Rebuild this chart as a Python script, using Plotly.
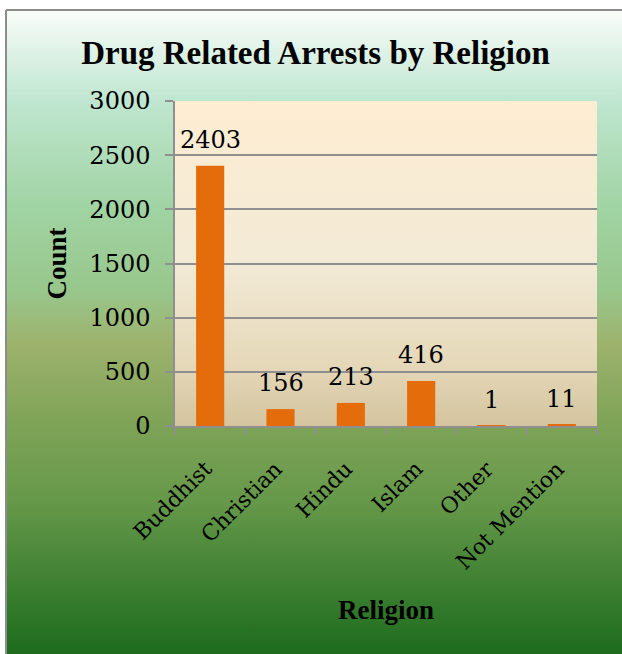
import base64
import plotly.graph_objects as go

categories = ["Buddhist", "Christian", "Hindu", "Islam", "Other", "Not Mention"]
counts = [2403, 156, 213, 416, 1, 11]
y_ticks = [0, 500, 1000, 1500, 2000, 2500, 3000]

W, H = 622, 654
L, R, T, B = 175, 25, 101, 228
PW, PH = W - L - R, H - T - B


def px_x(px):
    return (px - L) / PW


def px_y(py):
    return (H - B - py) / PH


def svg_grad(stops):
    st = "".join(f'<stop offset="{o}" stop-color="{c}"/>' for o, c in stops)
    svg = ('<svg xmlns="http://www.w3.org/2000/svg" width="100" height="100" preserveAspectRatio="none">'
           '<defs><linearGradient id="g" x1="0" y1="0" x2="0" y2="1">' + st +
           '</linearGradient></defs><rect width="100" height="100" fill="url(#g)"/></svg>')
    return "data:image/svg+xml;base64," + base64.b64encode(svg.encode()).decode()


fig_bg = svg_grad([(0, "#fafcfa"), (0.14, "#bfe6d0"), (0.3, "#a1d4a4"), (0.43, "#98c78c"),
                   (0.515, "#9db26c"), (0.63, "#80a458"), (0.76, "#659849"),
                   (0.89, "#3c7f31"), (1, "#1c6a1c")])
plot_bg = svg_grad([(0, "#feedd2"), (0.5, "#f2ead6"), (0.8, "#e6d9ba"), (1, "#d4c49f")])

fig = go.Figure()
fig.add_trace(go.Bar(x=categories, y=counts, marker=dict(color="#E46C0A", line=dict(width=0)),
                     width=0.4, hoverinfo="x+y"))

for c, v in zip(categories, counts):
    fig.add_annotation(x=c, y=v, text=str(v), showarrow=False, yanchor="bottom", yshift=10,
                       font=dict(family="DejaVu Serif", size=24, color="black"))

# rotated category labels
for c in categories:
    fig.add_annotation(x=c, y=px_y(455), yref="paper", text=c, textangle=-45, showarrow=False,
                       xanchor="right", yanchor="top", xshift=8, borderpad=0,
                       font=dict(family="DejaVu Serif", size=22, color="black"))

fig.add_annotation(xref="paper", yref="paper", x=px_x(56), y=0.5, text="<b>Count</b>",
                   textangle=-90, showarrow=False, xanchor="center", yanchor="middle",
                   font=dict(family="Liberation Serif", size=27, color="black"))
fig.add_annotation(xref="paper", yref="paper", x=0.5, y=px_y(610), text="<b>Religion</b>",
                   showarrow=False, xanchor="center", yanchor="middle",
                   font=dict(family="Liberation Serif", size=27, color="black"))

fig.add_layout_image(source=fig_bg, xref="paper", yref="paper", x=px_x(6), y=px_y(10),
                     sizex=(W + 5 - 6) / PW, sizey=(H + 5 - 10) / PH, xanchor="left", yanchor="top",
                     sizing="stretch", layer="below")
fig.add_layout_image(source=plot_bg, xref="paper", yref="paper", x=0, y=1, sizex=1, sizey=1,
                     xanchor="left", yanchor="top", sizing="stretch", layer="below")

fig.add_shape(type="line", xref="paper", yref="paper", x0=px_x(6), y0=px_y(10), x1=px_x(W + 5), y1=px_y(10),
              line=dict(color="#8c8c8c", width=2))
fig.add_shape(type="line", xref="paper", yref="paper", x0=px_x(6), y0=px_y(10), x1=px_x(6), y1=px_y(H + 5),
              line=dict(color="#8c8c8c", width=2))

fig.update_layout(
    width=W, height=H,
    margin=dict(l=L, r=R, t=T, b=B, pad=0),
    paper_bgcolor="white", plot_bgcolor="rgba(0,0,0,0)",
    showlegend=False,
    bargap=0.6,
    title=dict(text="<b>Drug Related Arrests by Religion</b>", xref="container", yref="container",
               x=315.5 / W, xanchor="center", y=1 - 52 / H, yanchor="middle",
               font=dict(family="Liberation Serif", size=33, color="black")),
)
fig.update_yaxes(range=[0, 3000], tickvals=y_ticks, ticktext=[str(t) for t in y_ticks],
                 showgrid=True, gridcolor="#8f8f8f", gridwidth=1.5,
                 showline=True, linecolor="#8f8f8f", linewidth=1.5,
                 ticks="outside", ticklen=8, tickcolor="#8f8f8f", tickwidth=1.5,
                 ticklabelstandoff=10,
                 tickfont=dict(family="DejaVu Serif", size=24, color="black"), zeroline=False)
fig.update_xaxes(range=[-0.5, len(categories) - 0.5], autorange=False,
                 showline=True, linecolor="#8f8f8f", linewidth=1.5,
                 ticks="outside", ticklen=7, tickcolor="#8f8f8f", tickwidth=1.5, tickson="boundaries",
                 showticklabels=False)

fig.write_html("out.html")
